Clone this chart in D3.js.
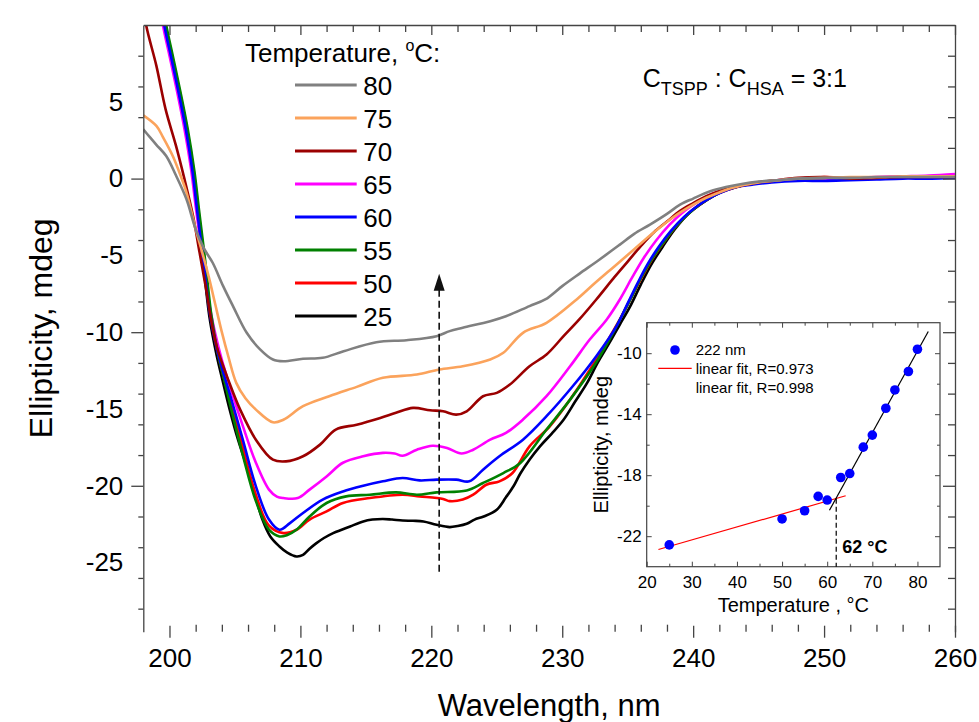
<!DOCTYPE html>
<html><head><meta charset="utf-8">
<script src="https://cdn.jsdelivr.net/npm/d3@7"></script>
<style>
html,body{margin:0;padding:0;background:#fff;}
svg{display:block;}
text{font-family:"Liberation Sans",Arial,Helvetica,sans-serif;fill:#000;}
</style>
</head><body>
<svg id="chart" width="979" height="722"></svg>
<script>
// ---------------- DATA ----------------
const temperatures = [80, 75, 70, 65, 60, 55, 50, 25];
const seriesColors = ["#808080", "#fba35c", "#9b0000", "#ff00ff", "#0000ff", "#008000", "#ff0000", "#000000"];

const s80 = [[198,3.2],[198.5,2.7],[199,2.2],[199.75,1.47],[200.5,0.2],[201.3,-1.35],[202,-3.3],[202.6,-4.5],[203.3,-5.48],[204.1,-7.0],[204.85,-8.3],[205.9,-10.04],[206.9,-11.1],[207.9,-11.78],[208.7,-11.89],[210.2,-11.73],[211.7,-11.67],[213.3,-11.24],[215.8,-10.65],[218.1,-10.52],[220.4,-10.26],[221.4,-9.93],[222.4,-9.71],[224.5,-9.28],[225.7,-8.96],[227.5,-8.3],[228.7,-7.87],[230,-7.0],[231.3,-6.2],[232.8,-5.3],[234.4,-4.3],[235.5,-3.6],[236.7,-3.0],[238,-2.3],[239,-1.7],[240,-1.3],[241.3,-0.83],[242.5,-0.55],[243.6,-0.37],[245,-0.2],[246.6,-0.1],[248,0],[250,0.05],[252,0.05],[254,0.1],[256,0.1],[258,0.1],[260,0.1]];
const s75 = [[198,4.12],[199,3.43],[199.5,2.7],[200.25,1.47],[200.8,0.3],[201.3,-0.91],[202,-3.3],[202.5,-4.8],[203,-6.4],[203.5,-8.2],[204,-10.0],[204.5,-11.6],[205.1,-13.3],[205.8,-14.3],[206.6,-15.04],[207.9,-15.87],[208.7,-15.7],[210.2,-14.82],[212.2,-14.17],[214.3,-13.56],[216.3,-12.97],[218.9,-12.76],[220.6,-12.43],[222.4,-12.22],[224.5,-11.78],[225.5,-11.34],[227,-10.04],[228.8,-9.39],[231.1,-7.87],[232.5,-6.8],[234,-5.7],[235.5,-4.6],[237,-3.5],[238.5,-2.5],[240,-1.7],[241,-1.25],[242,-0.9],[243,-0.6],[244,-0.4],[245,-0.25],[246,-0.15],[248,0],[250,0.05],[252,0.1],[254,0.1],[256,0.15],[258,0.15],[260,0.15]];
const s70 = [[197.9,12],[198.2,10.06],[199,7.34],[199.7,4.52],[200.5,2.13],[201.15,-0.05],[201.8,-2.44],[202.3,-4.82],[202.8,-7.2],[203.2,-9.3],[203.6,-10.9],[204.1,-12.2],[204.8,-13.8],[205.4,-15.04],[206.6,-17.0],[207.9,-18.3],[208.9,-18.41],[210.2,-18.08],[211.5,-17.32],[212.7,-16.34],[214.3,-16.02],[216.1,-15.58],[217.3,-15.25],[218.6,-14.93],[219.9,-15.08],[220.9,-15.15],[221.9,-15.37],[222.7,-15.15],[223.95,-14.17],[225,-13.95],[226,-13.41],[227.5,-12.22],[228.8,-11.45],[230.1,-10.26],[231.3,-9.17],[232.6,-7.87],[234,-6.4],[235,-5.4],[236,-4.4],[237,-3.5],[238,-2.8],[239,-2.1],[240,-1.6],[241,-1.15],[242,-0.8],[243,-0.55],[244,-0.4],[245,-0.25],[246,-0.15],[248,0.05],[250,0.1],[252,0],[254,0.05],[256,0.1],[258,0.1],[260,0.1]];
const s65 = [[199,13],[199.5,10],[200,8.0],[200.5,6.0],[201.15,3.2],[201.65,0.6],[202,-1.8],[202.5,-5.0],[203,-8.0],[203.5,-10.1],[204,-11.8],[204.6,-13.5],[205.6,-16.1],[206.6,-18.5],[207.6,-20.25],[208.2,-20.7],[208.7,-20.8],[209.8,-20.8],[210.7,-20.25],[212,-19.39],[213.25,-18.5],[214.8,-18.08],[216.3,-17.86],[217.2,-17.9],[217.8,-18.04],[218.9,-17.65],[220.1,-17.39],[221.2,-17.54],[222.3,-17.9],[223.2,-17.65],[224.5,-17.0],[225.7,-16.56],[227,-15.69],[228.8,-14.17],[230.6,-12.22],[232.1,-10.48],[233.4,-9.17],[234.4,-7.87],[235.3,-6.5],[236.2,-5.2],[237.2,-4.0],[238.2,-3.0],[239.2,-2.2],[240.2,-1.6],[241.2,-1.1],[242.2,-0.75],[243.2,-0.5],[244.5,-0.3],[246,-0.15],[248,0],[250,-0.05],[252,0.05],[254,0.1],[256,0.15],[258,0.2],[260,0.3]];
const s60 = [[199,13.5],[199.6,10],[200.1,8.0],[200.6,6.0],[201.25,3.2],[201.75,0.5],[202.1,-2.0],[202.6,-5.5],[203.1,-8.9],[203.6,-11.0],[204.1,-12.6],[204.6,-14.0],[205.6,-17.0],[206.6,-20.04],[207.6,-22.2],[208.4,-22.86],[209.2,-22.43],[210.2,-21.77],[211.7,-20.9],[213.25,-20.37],[214.8,-20.0],[216.3,-19.71],[217.8,-19.49],[219.1,-19.65],[220.4,-19.6],[221.9,-19.6],[222.9,-19.71],[223.95,-18.95],[225.2,-18.08],[227,-17.0],[228.8,-15.47],[230.8,-13.52],[232.6,-11.56],[234.15,-9.6],[234.9,-8.3],[235.7,-6.9],[236.5,-5.6],[237.4,-4.4],[238.3,-3.4],[239.3,-2.5],[240.3,-1.8],[241.3,-1.25],[242.3,-0.85],[243.3,-0.55],[244.5,-0.4],[246,-0.25],[248,-0.15],[250,-0.15],[252,-0.1],[254,-0.05],[256,0],[258,0],[260,0.05]];
const s55 = [[199,14],[199.75,10],[200.25,8.0],[200.75,6.0],[201.4,3.2],[201.9,0.5],[202.25,-2.0],[202.75,-5.5],[203.2,-8.9],[203.7,-11.4],[204.15,-13.0],[204.6,-14.6],[205.6,-18.0],[206.6,-21.0],[207.6,-22.86],[208.4,-23.3],[209.0,-23.2],[209.7,-22.86],[210.7,-22.0],[212,-21.12],[213.5,-20.69],[215.3,-20.58],[217.3,-20.43],[218.9,-20.58],[220.4,-20.43],[222.7,-20.3],[223.95,-19.82],[225.5,-19.17],[226.8,-18.51],[228.8,-16.34],[230.6,-14.39],[232.4,-12.22],[233.6,-10.48],[235.2,-7.87],[236,-6.5],[236.8,-5.3],[237.7,-4.2],[238.6,-3.2],[239.5,-2.4],[240.5,-1.7],[241.5,-1.15],[242.5,-0.75],[243.5,-0.5],[244.5,-0.3],[246,-0.2],[248,-0.05],[250,0.05],[252,0],[254,0.05],[256,0.1],[258,0.1],[260,0.1]];
const s50 = [[199,14],[199.7,10],[200.2,8.0],[200.7,6.0],[201.35,3.2],[201.85,0.5],[202.2,-2.0],[202.7,-5.5],[203.15,-8.9],[203.65,-11.2],[204.1,-12.8],[204.6,-14.3],[205.6,-17.5],[206.6,-20.6],[207.6,-22.6],[208.7,-23.08],[209.7,-22.86],[210.7,-22.2],[212,-21.67],[213.25,-21.12],[215.3,-20.8],[217.8,-20.58],[219.1,-20.69],[220.9,-20.86],[221.4,-21.0],[222.4,-20.9],[223.2,-20.58],[224.2,-19.93],[225.2,-19.71],[226.2,-19.17],[227.5,-17.43],[229.05,-16.13],[230.6,-14.39],[232.6,-11.78],[234.4,-9.17],[235.3,-7.7],[236.1,-6.4],[236.9,-5.2],[237.8,-4.1],[238.7,-3.1],[239.6,-2.3],[240.6,-1.65],[241.6,-1.1],[242.6,-0.75],[243.6,-0.5],[244.6,-0.3],[246,-0.2],[248,-0.05],[250,0.1],[252,0.05],[254,0.05],[256,0.1],[258,0.15],[260,0.15]];
const s25 = [[199,14.5],[199.65,10],[200.15,8.0],[200.65,6.0],[201.3,3.2],[201.8,0.5],[202.15,-2.0],[202.6,-5.6],[203.05,-9.0],[203.6,-11.5],[204.1,-13.3],[204.6,-15.04],[205.2,-16.9],[205.9,-18.74],[206.5,-20.5],[207.1,-22.2],[207.7,-23.3],[208.4,-23.95],[209,-24.35],[209.7,-24.6],[210.2,-24.5],[210.7,-24.1],[211.2,-23.75],[211.8,-23.4],[212.5,-23.08],[213.2,-22.85],[213.8,-22.65],[214.8,-22.32],[215.5,-22.2],[216.3,-22.16],[217,-22.2],[217.8,-22.26],[218.6,-22.28],[219.4,-22.32],[220.4,-22.54],[221.4,-22.69],[222,-22.62],[222.7,-22.47],[223.3,-22.2],[224,-22.0],[225,-21.56],[225.7,-20.75],[226.3,-20.0],[226.8,-19.2],[227.5,-18.3],[228.3,-17.43],[229.2,-16.6],[230.1,-15.7],[231,-14.5],[231.9,-13.3],[232.7,-12.0],[233.6,-10.7],[234.4,-9.5],[235.2,-8.3],[236,-6.9],[236.8,-5.6],[237.7,-4.4],[238.6,-3.3],[239.5,-2.4],[240.5,-1.7],[241.5,-1.15],[242.5,-0.75],[243.5,-0.5],[244.5,-0.3],[246,-0.15],[247,-0.1],[248,0],[250,0.05],[252,0],[254,0.05],[256,0.1],[258,0.1],[260,0.15]];
const seriesData = [s80, s75, s70, s65, s60, s55, s50, s25];

const xTickLabels = [200, 210, 220, 230, 240, 250, 260];
const yTickLabels = [5, 0, -5, -10, -15, -20, -25];

// arrow (wavelength, from, to)
const arrowLambda = 220.6, arrowFrom = -25.6, arrowTo = -6.2;

// inset data
const insetT = [25, 50, 55, 58, 60, 63, 65, 68, 70, 73, 75, 78, 80];
const insetV = [-22.57, -20.87, -20.33, -19.39, -19.63, -18.15, -17.89, -16.16, -15.37, -13.61, -12.41, -11.2, -9.74];
const fitLowT = [22.6, 64.1], fitLowV = [-22.87, -19.35];
const fitHighT = [60.5, 82.4], fitHighV = [-20.30, -8.58];
const breakT = 62, breakV = -19.55;
const insetXTicks = [20, 30, 40, 50, 60, 70, 80];
const insetYTicks = [-22, -18, -14, -10];

// ---------------- LAYOUT ----------------
const svg = d3.select("#chart");
const P = {l: 143.3, r: 955, t: 25, b: 631.7};
const x = d3.scaleLinear().domain([198, 260]).range([P.l, P.r]);
const y = d3.scaleLinear().domain([-29.5, 10]).range([P.b, P.t]);
const AX = "#444";

svg.append("defs").append("clipPath").attr("id", "plotclip")
  .append("rect").attr("x", P.l).attr("y", P.t).attr("width", P.r - P.l).attr("height", P.b - P.t);

function styleAxis(g, fs) {
  g.selectAll("path.domain").attr("stroke", AX).attr("stroke-width", 1.3);
  g.selectAll(".tick line").attr("stroke", AX).attr("stroke-width", 1.3);
  g.selectAll("text").attr("font-size", fs).attr("fill", "#000")
    .attr("font-family", '"Liberation Sans",Arial,sans-serif');
}

// curves
const line = d3.line().x(d => x(d[0])).y(d => y(d[1])).curve(d3.curveCatmullRom.alpha(0.5));
const drawOrder = [7, 6, 3, 5, 4, 2, 1, 0];
const curves = svg.append("g").attr("clip-path", "url(#plotclip)");
drawOrder.forEach(i => {
  curves.append("path").datum(seriesData[i]).attr("d", line)
    .attr("fill", "none").attr("stroke", seriesColors[i]).attr("stroke-width", 2.6)
    .attr("stroke-linejoin", "round");
});

// axes: left
const yMinor = d3.range(-28, 9, 2).filter(v => v % 10 !== 0);
const yMajor = [-20, -10, 0];
svg.append("g").attr("transform", `translate(${P.l},0)`)
  .call(d3.axisLeft(y).tickValues(yMinor).tickSize(5).tickSizeOuter(0).tickFormat(""))
  .call(g => styleAxis(g, 26));
svg.append("g").attr("transform", `translate(${P.l},0)`)
  .call(d3.axisLeft(y).tickValues(yMajor).tickSize(12).tickFormat(""))
  .call(g => g.select(".domain").remove()).call(g => styleAxis(g, 26));
svg.append("g").attr("transform", `translate(${P.l},0)`)
  .call(d3.axisLeft(y).tickValues(yTickLabels).tickSize(0).tickPadding(20).tickFormat(d => String(d).replace("\u2212", "-")))
  .call(g => g.select(".domain").remove()).call(g => styleAxis(g, 26));
// right (inward)
svg.append("g").attr("transform", `translate(${P.r},0)`)
  .call(d3.axisLeft(y).tickValues(yMinor).tickSize(7).tickSizeOuter(0).tickFormat(""))
  .call(g => styleAxis(g, 26));
svg.append("g").attr("transform", `translate(${P.r},0)`)
  .call(d3.axisLeft(y).tickValues(yMajor).tickSize(12).tickFormat(""))
  .call(g => g.select(".domain").remove()).call(g => styleAxis(g, 26));
// top (inward)
const xMinor = d3.range(202, 260, 2).filter(v => v % 10 !== 0);
svg.append("g").attr("transform", `translate(0,${P.t})`)
  .call(d3.axisBottom(x).tickValues(xMinor).tickSize(7).tickSizeOuter(0).tickFormat(""))
  .call(g => styleAxis(g, 26));
svg.append("g").attr("transform", `translate(0,${P.t})`)
  .call(d3.axisBottom(x).tickValues(xTickLabels).tickSize(10).tickFormat(""))
  .call(g => g.select(".domain").remove()).call(g => styleAxis(g, 26));
// bottom (no line)
svg.append("g").attr("transform", `translate(0,${P.b})`)
  .call(d3.axisTop(x).tickValues(xMinor).tickSize(7).tickFormat(""))
  .call(g => g.select(".domain").remove()).call(g => styleAxis(g, 26));
svg.append("g").attr("transform", `translate(0,${P.b - 6})`)
  .call(d3.axisBottom(x).tickValues(xTickLabels).tickSize(12).tickFormat(""))
  .call(g => g.select(".domain").remove()).call(g => styleAxis(g, 26));
svg.append("g").attr("transform", `translate(0,${P.b})`)
  .call(d3.axisBottom(x).tickValues(xTickLabels).tickSize(0).tickPadding(17))
  .call(g => g.select(".domain").remove()).call(g => styleAxis(g, 26));

// axis titles
svg.append("text").attr("x", (P.l + P.r) / 2).attr("y", 716).attr("text-anchor", "middle")
  .attr("font-size", 31).text("Wavelength, nm");
svg.append("text").attr("transform", `translate(52,${(P.t + P.b) / 2}) rotate(-90)`)
  .attr("text-anchor", "middle").attr("font-size", 32).text("Ellipticity, mdeg");

// legend
const lg = svg.append("g");
const lt = lg.append("text").attr("x", 245).attr("y", 61.7).attr("font-size", 26);
lt.append("tspan").text("Temperature, ");
lt.append("tspan").attr("font-size", 16).attr("dy", -11).text("o");
lt.append("tspan").attr("dy", 11).text("C:");
temperatures.forEach((t, i) => {
  const yy = 85 + i * 33;
  lg.append("line").attr("x1", 295).attr("x2", 356.7).attr("y1", yy).attr("y2", yy)
    .attr("stroke", seriesColors[i]).attr("stroke-width", 3);
  lg.append("text").attr("x", 363.3).attr("y", yy + 9.5).attr("font-size", 26).text(t);
});

// annotation
const an = svg.append("text").attr("x", 642.7).attr("y", 86.7).attr("font-size", 25);
an.append("tspan").text("C");
an.append("tspan").attr("font-size", 18).attr("dy", 8).text("TSPP");
an.append("tspan").attr("dy", -8).text(" : C");
an.append("tspan").attr("font-size", 18).attr("dy", 8).text("HSA");
an.append("tspan").attr("dy", -8).text(" = 3:1");

// dashed arrow
svg.append("line").attr("x1", x(arrowLambda)).attr("x2", x(arrowLambda))
  .attr("y1", y(arrowFrom)).attr("y2", y(arrowTo) + 14)
  .attr("stroke", "#111").attr("stroke-width", 1.6).attr("stroke-dasharray", "7,4");
svg.append("path")
  .attr("d", `M${x(arrowLambda)},${y(arrowTo)} L${x(arrowLambda) - 5.5},${y(arrowTo) + 17} L${x(arrowLambda) + 5.5},${y(arrowTo) + 17} Z`)
  .attr("fill", "#111");

// ---------------- INSET ----------------
const I = {l: 646.7, r: 940, t: 322.7, b: 566.7};
const ix = d3.scaleLinear().domain([20, 85]).range([I.l, I.r]);
const iy = d3.scaleLinear().domain([-24, -8]).range([I.b, I.t]);
svg.append("rect").attr("x", I.l).attr("y", I.t).attr("width", I.r - I.l).attr("height", I.b - I.t)
  .attr("fill", "#fff").attr("stroke", AX).attr("stroke-width", 1.2);
const ixMinor = d3.range(25, 85, 10);
const iyMinor = [-20, -16, -12];
function inTicks(axis, tr) {
  svg.append("g").attr("transform", tr).call(axis)
    .call(g => g.select(".domain").remove()).call(g => styleAxis(g, 17))
    .selectAll(".tick line").attr("stroke-width", 1);
}
inTicks(d3.axisTop(ix).tickValues(insetXTicks).tickSize(5).tickFormat(""), `translate(0,${I.b})`);
inTicks(d3.axisTop(ix).tickValues(ixMinor).tickSize(3).tickFormat(""), `translate(0,${I.b})`);
inTicks(d3.axisBottom(ix).tickValues(insetXTicks).tickSize(5).tickFormat(""), `translate(0,${I.t})`);
inTicks(d3.axisBottom(ix).tickValues(ixMinor).tickSize(3).tickFormat(""), `translate(0,${I.t})`);
inTicks(d3.axisRight(iy).tickValues(insetYTicks).tickSize(5).tickFormat(""), `translate(${I.l},0)`);
inTicks(d3.axisRight(iy).tickValues(iyMinor).tickSize(3).tickFormat(""), `translate(${I.l},0)`);
inTicks(d3.axisLeft(iy).tickValues(insetYTicks).tickSize(5).tickFormat(""), `translate(${I.r},0)`);
inTicks(d3.axisLeft(iy).tickValues(iyMinor).tickSize(3).tickFormat(""), `translate(${I.r},0)`);
svg.append("g").attr("transform", `translate(0,${I.b})`)
  .call(d3.axisBottom(ix).tickValues(insetXTicks).tickSize(0).tickPadding(9.5))
  .call(g => g.select(".domain").remove()).call(g => styleAxis(g, 17));
svg.append("g").attr("transform", `translate(${I.l},0)`)
  .call(d3.axisLeft(iy).tickValues(insetYTicks).tickSize(0).tickPadding(5).tickFormat(d => String(d).replace("\u2212", "-")))
  .call(g => g.select(".domain").remove()).call(g => styleAxis(g, 17));

svg.append("text").attr("x", (I.l + I.r) / 2).attr("y", 611.7).attr("text-anchor", "middle")
  .attr("font-size", 20).text("Temperature , \u00B0C");
svg.append("text").attr("transform", `translate(608,${(I.t + I.b) / 2}) rotate(-90)`)
  .attr("text-anchor", "middle").attr("font-size", 20).text("Ellipticity, mdeg");

// fits
const fitLine = d3.line().x(d => ix(d[0])).y(d => iy(d[1]));
svg.append("path").datum(fitLowT.map((t, i) => [t, fitLowV[i]])).attr("d", fitLine)
  .attr("stroke", "#ff0000").attr("stroke-width", 1.2).attr("fill", "none");
svg.append("path").datum(fitHighT.map((t, i) => [t, fitHighV[i]])).attr("d", fitLine)
  .attr("stroke", "#000").attr("stroke-width", 1.2).attr("fill", "none");
// break line
svg.append("line").attr("x1", ix(breakT)).attr("x2", ix(breakT)).attr("y1", iy(breakV)).attr("y2", I.b)
  .attr("stroke", "#000").attr("stroke-width", 1.2).attr("stroke-dasharray", "5,3");
svg.append("text").attr("x", ix(breakT) + 6).attr("y", 553).attr("font-size", 18).attr("font-weight", "bold")
  .text(breakT + " \u00B0C");
// points
svg.append("g").selectAll("circle").data(insetT.map((t, i) => [t, insetV[i]])).join("circle")
  .attr("cx", d => ix(d[0])).attr("cy", d => iy(d[1])).attr("r", 4.8).attr("fill", "#0000ff");

// inset legend
svg.append("circle").attr("cx", 675).attr("cy", 350).attr("r", 4.8).attr("fill", "#0000ff");
svg.append("text").attr("x", 695.7).attr("y", 355).attr("font-size", 15).text("222 nm");
svg.append("line").attr("x1", 658.3).attr("x2", 691.7).attr("y1", 368.3).attr("y2", 368.3)
  .attr("stroke", "#ff0000").attr("stroke-width", 1.2);
svg.append("text").attr("x", 695.7).attr("y", 373.5).attr("font-size", 15).text("linear fit, R=0.973");
svg.append("text").attr("x", 695.7).attr("y", 392.5).attr("font-size", 15).text("linear fit, R=0.998");
</script>
</body></html>
